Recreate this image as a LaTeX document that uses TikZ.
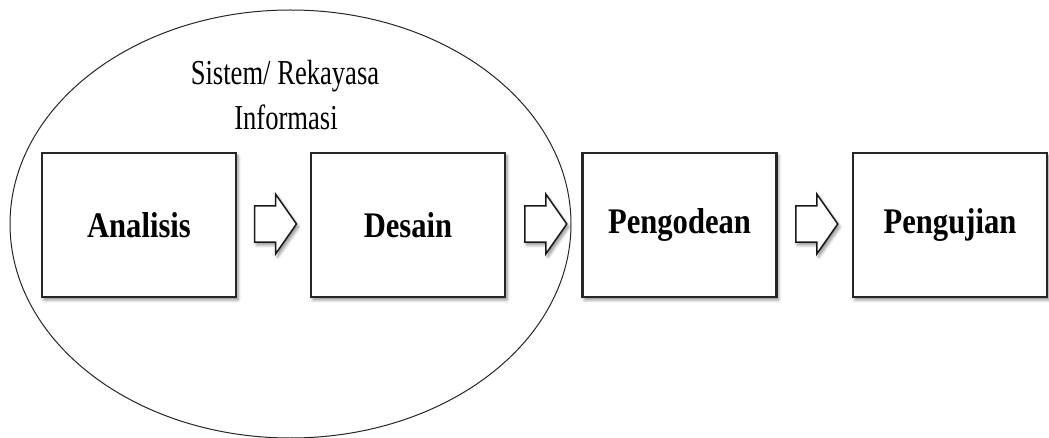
\documentclass[tikz,border=0pt]{standalone}
\usepackage{fontspec}
\setmainfont{Liberation Serif}
\newfontfamily\condreg[FakeStretch=0.76]{Liberation Serif}
\newfontfamily\condbold[FakeStretch=0.85]{Liberation Serif}
\usetikzlibrary{shapes.geometric,shadows.blur,calc}
\begin{document}
\begin{tikzpicture}[x=1pt,y=1pt,
  softshadow/.style={blur shadow={shadow xshift=2pt, shadow yshift=-3pt, shadow blur steps=6, shadow blur radius=3pt, shadow opacity=45}},
  stagebox/.style={draw=black!85, line width=2.2pt, fill=white, minimum width=194pt, minimum height=144pt, inner sep=0pt, softshadow, font=\condbold\bfseries\fontsize{36}{40}\selectfont},
  blockarrow/.style={draw=black!90, line width=1.5pt, fill=white, line join=miter, softshadow},
  scopeellipse/.style={ellipse, draw=black!85, line width=1pt, minimum width=561pt, minimum height=428pt, inner sep=0pt},
  scopelabel/.style={font=\condreg\fontsize{35}{45}\selectfont, inner sep=0pt}
]
\useasboundingbox (0,0) rectangle (1049,437);
\node[scopeellipse] (scope) at (290.5,213) {};
\node[scopelabel, anchor=base] (lab1) at (285,352) {Sistem/ Rekayasa};
\node[scopelabel, anchor=base] (lab2) at (286,307) {Informasi};

\node[stagebox] (ana) at (139,212) {Analisis};
\node[stagebox] (des) at (408,212) {Desain};
\node[stagebox] (pen) at (679.5,212) {Pengodean};
\node[stagebox] (uji) at (950,212) {Pengujian};

\foreach \a/\b/\m in {ana/des/m1, des/pen/m2, pen/uji/m3}{
  \coordinate (\m) at ($(\a.east)!0.5!(\b.west)+(1,1)$);
  \draw[blockarrow] ($(\m)+(-20,-18)$) -- ($(\m)+(1,-18)$) -- ($(\m)+(1,-30)$) -- ($(\m)+(22,0)$) -- ($(\m)+(1,30)$) -- ($(\m)+(1,18)$) -- ($(\m)+(-20,18)$) -- cycle;
}
\end{tikzpicture}
\end{document}
